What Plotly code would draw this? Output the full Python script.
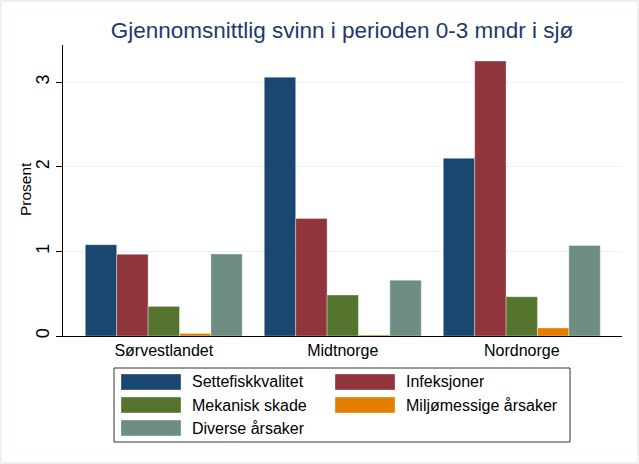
import plotly.graph_objects as go

# ---- data ----
regions = ["Sørvestlandet", "Midtnorge", "Nordnorge"]
series_names = ["Settefiskkvalitet", "Infeksjoner", "Mekanisk skade",
                "Miljømessige årsaker", "Diverse årsaker"]
settefisk = [1.08, 3.06, 2.10]
infeksjoner = [0.965, 1.39, 3.25]
mekanisk = [0.35, 0.485, 0.465]
miljo = [0.03, 0.012, 0.095]
diverse = [0.97, 0.66, 1.07]
y_ticks = [0, 1, 2, 3]
y_title = "Prosent"

series_values = [settefisk, infeksjoner, mekanisk, miljo, diverse]
colors = ["#1a476f", "#90353b", "#55752f", "#e37e00", "#6e8e84"]

W, H = 639, 464
L, R, T, B = 63, 17, 45, 128
pw, ph = W - L - R, H - T - B

fig = go.Figure()
for name, vals, col in zip(series_names, series_values, colors):
    fig.add_trace(go.Bar(
        x=list(range(len(regions))), y=vals, name=name,
        marker=dict(color=col, line=dict(color="rgba(255,255,255,0.35)", width=1)),
        showlegend=False,
    ))

fig.update_layout(
    width=W, height=H,
    margin=dict(l=L, r=R, t=T, b=B, autoexpand=False),
    paper_bgcolor="white", plot_bgcolor="white",
    barmode="group", bargap=0.123, bargroupgap=0,
    font=dict(family="Liberation Sans, Arial, sans-serif", color="black", size=16),
    title=dict(text="Gjennomsnittlig svinn i perioden 0-3 mndr i sjø",
               x=342 / W, xanchor="center", y=1 - 30 / H, yanchor="middle",
               font=dict(size=22.5, color="#1e3a6a")),
)
fig.update_xaxes(
    range=[-0.563, 2.56], tickmode="array", tickvals=list(range(len(regions))),
    ticktext=regions, showgrid=False, zeroline=False,
    showline=True, linecolor="black", linewidth=1, ticks="",
    tickfont=dict(size=16),
)
fig.update_yaxes(
    range=[0, 3.44], tickmode="array", tickvals=y_ticks,
    ticktext=[str(v) for v in y_ticks], tickangle=-90,
    showgrid=True, gridcolor="#eaf2f3", gridwidth=1, zeroline=False,
    showline=True, linecolor="black", linewidth=1,
    ticks="outside", ticklen=6, tickcolor="black", tickfont=dict(size=18),
)

# ---- manual legend (Stata style) ----
def px(x):
    return (x - L) / pw

def py(y):
    return (H - B - y) / ph

shapes = [dict(type="rect", xref="paper", yref="paper",
               x0=px(114), x1=px(570), y0=py(368), y1=py(442),
               line=dict(color="#333333", width=1), fillcolor="white", layer="above")]
annotations = [dict(xref="paper", yref="paper", x=px(25), y=py(189), text=y_title,
                    textangle=-90, showarrow=False, xanchor="center", yanchor="middle",
                    font=dict(size=15.5, color="black"))]
row_y = [382, 405, 428]
col_x = [(121, 190), (335, 404)]
for i, (name, col) in enumerate(zip(series_names, colors)):
    r, c = divmod(i, 2)
    sx, tx = col_x[c]
    yc = row_y[r]
    shapes.append(dict(type="rect", xref="paper", yref="paper",
                       x0=px(sx), x1=px(sx + 60), y0=py(yc - 8), y1=py(yc + 8),
                       line=dict(color="rgba(255,255,255,0.35)", width=1),
                       fillcolor=col, layer="above"))
    annotations.append(dict(xref="paper", yref="paper", x=px(tx), y=py(yc),
                            text=name, showarrow=False, xanchor="left", yanchor="middle",
                            font=dict(size=16, color="black")))
# light outer frame
shapes.append(dict(type="rect", xref="paper", yref="paper",
                   x0=px(1), x1=px(W - 1), y0=py(H - 1), y1=py(1),
                   line=dict(color="#eaf2f3", width=2), fillcolor="rgba(0,0,0,0)"))
fig.update_layout(shapes=shapes, annotations=annotations)

fig.write_html("out.html", config={"displayModeBar": False},
               post_script="document.body.style.margin='0';")
